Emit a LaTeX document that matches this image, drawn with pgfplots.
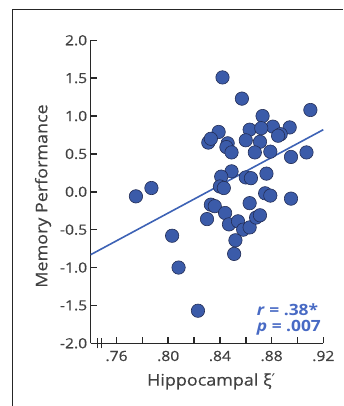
\documentclass[border=0pt]{standalone}
\usepackage{fontspec}
\setmainfont{Open Sans}[FakeStretch=1.12, UprightFeatures={FakeBold=0.5}]
\newfontfamily\greekfont{Open Sans}[FakeStretch=1.12, FakeBold=0.5]
\newfontfamily\primefont{DejaVu Sans}
\usepackage{pgfplots}
\pgfplotsset{compat=1.18}
\definecolor{dotblue}{RGB}{59,91,169}
\definecolor{dotedge}{RGB}{35,45,85}
\definecolor{lineblue}{RGB}{61,98,181}
\definecolor{txtblue}{RGB}{72,106,196}
\definecolor{axgray}{RGB}{40,40,40}
\definecolor{labgray}{RGB}{65,65,65}
\begin{document}
\begin{tikzpicture}[x=1pt,y=1pt]
\begin{axis}[
  scale only axis, width=232.6pt, height=303pt,
  xmin=0.74, xmax=0.92, ymin=-2, ymax=2,
  axis x line*=bottom, axis y line*=left,
  axis line style={line width=1.5pt, axgray, -},
  xtick={0.76,0.80,0.84,0.88,0.92},
  xticklabels={.76,.80,.84,.88,.92},
  minor xtick={0.78,0.82,0.86,0.90},
  ytick={-2,-1.5,-1,-0.5,0,0.5,1,1.5,2},
  yticklabels={-2.0,-1.5,-1.0,-0.5,0.0,0.5,1.0,1.5,2.0},
  tick align=inside, major tick length=6pt, minor tick length=6pt,
  every tick/.style={line width=1.5pt, axgray},
  ticklabel style={font=\fontsize{14}{14}\selectfont, text=labgray},
  xticklabel style={yshift=-4pt},
  xlabel={Hippocampal {\greekfont ξ}{\primefont ′}},
  ylabel={Memory Performance},
  label style={font=\fontsize{16}{16}\selectfont, text=labgray},
  xlabel style={at={(axis description cs:0.518,-0.126)}, anchor=center},
  ylabel style={at={(axis description cs:-0.205,0.486)}, anchor=center, rotate=0},
  clip=false,
]
\coordinate (O) at (axis cs:0.74,-2);
\draw[line width=1.2pt, axgray] (axis cs:0.7455,-2.066) -- (axis cs:0.7455,-1.934);
\draw[line width=1.2pt, axgray] (axis cs:0.7482,-2.066) -- (axis cs:0.7482,-1.934);
\addplot[lineblue, line width=1.6pt] coordinates {(0.74,-0.83) (0.92,0.82)};
\addplot[only marks, mark=*, mark size=6.7pt,
  mark options={fill=dotblue, draw=dotedge, line width=0.6pt}] table {
x y
0.842 1.51
0.857 1.23
0.910 1.08
0.873 1.00
0.881 0.86
0.894 0.85
0.863 0.82
0.872 0.84
0.839 0.79
0.887 0.76
0.885 0.74
0.831 0.65
0.833 0.70
0.846 0.64
0.860 0.68
0.871 0.66
0.845 0.59
0.849 0.52
0.867 0.52
0.879 0.53
0.895 0.46
0.907 0.52
0.849 0.27
0.841 0.20
0.860 0.19
0.864 0.18
0.876 0.24
0.840 0.07
0.843 0.05
0.775 -0.06
0.787 0.05
0.875 -0.02
0.879 -0.05
0.895 -0.09
0.833 -0.17
0.836 -0.19
0.863 -0.15
0.844 -0.28
0.830 -0.36
0.847 -0.43
0.854 -0.39
0.858 -0.50
0.863 -0.47
0.868 -0.34
0.871 -0.31
0.852 -0.64
0.851 -0.82
0.803 -0.58
0.808 -1.00
0.823 -1.57
};
\node[anchor=west, text=txtblue, inner sep=0pt, font=\fontsize{15.5}{15.5}\selectfont\bfseries] at (axis cs:0.8685,-1.56) {\textit{r} = .38*};
\node[anchor=west, text=txtblue, inner sep=0pt, font=\fontsize{15.5}{15.5}\selectfont\bfseries] at (axis cs:0.8685,-1.80) {\textit{p} = .007};
\end{axis}
\pgfresetboundingbox
\path[use as bounding box] ([shift={(-90.7,-62.7)}]O) rectangle ([shift={(252.3,343.3)}]O);
\draw[line width=1.2pt, black!85] ([shift={(-78,-62.7)}]O) -- ([shift={(-78,333.6)}]O) -- ([shift={(252.3,333.6)}]O);
\end{tikzpicture}
\end{document}
